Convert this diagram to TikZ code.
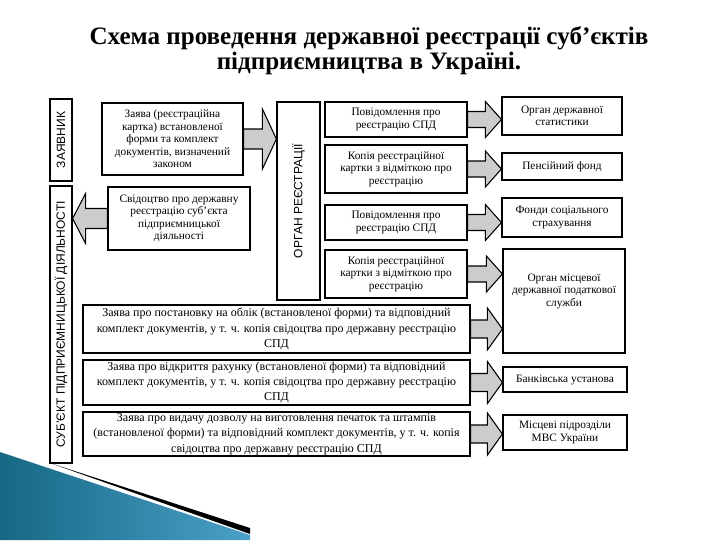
\documentclass[tikz,border=0pt]{standalone}
\usepackage{fontspec}
\setmainfont{Liberation Serif}
\setsansfont{Liberation Sans}
\usetikzlibrary{calc}

\definecolor{deckblue}{RGB}{74,160,200}
\definecolor{deckteal}{RGB}{22,104,132}

\tikzset{every picture/.style={line width=0.75pt}}

% block arrow: source anchor, target anchor, shaft half, head half, head offset
\newcommand{\fatarrow}[5]{%
  \draw [fatarr] ($(#1)+(0,#3)$) -- ($(#1 -| #2)+(#5,#3)$) -- ($(#1 -| #2)+(#5,#4)$) -- (#1 -| #2) -- ($(#1 -| #2)+(#5,-#4)$) -- ($(#1 -| #2)+(#5,-#3)$) -- ($(#1)+(0,-#3)$) -- cycle ;}

\begin{document}
\begin{tikzpicture}[x=0.75pt,y=0.75pt,yscale=-1,xscale=1,
  box/.style={draw, line width=0.9pt, align=center, inner sep=1pt, font=\fontsize{8.5}{9.4}\selectfont},
  widebox/.style={box, font=\fontsize{9}{11.5}\selectfont},
  vbox/.style={draw, line width=0.9pt, rotate=90, inner sep=1pt, font=\sffamily\fontsize{9}{10}\selectfont},
  fatarr/.style={draw, line width=0.8pt, fill=black!20, line join=miter}]
	\useasboundingbox (0,0) rectangle (720,540);

	%Shape: slide corner
	\shade [left color=deckteal, right color=deckblue] (0,452) -- (250,535) -- (250,540) -- (0,540) -- cycle ;
	\fill [black] (50,463) -- (250,528) -- (250,534) -- cycle ;

	% Title
	\node [font=\bfseries\fontsize{18.8}{19}\selectfont, align=center] (title) at (369,51) {Схема проведення державної реєстрації суб’єктів\\ підприємництва в Україні.};

	% Vertical boxes (rotated: north is the left side, south the right side)
	\node [vbox, minimum width=61.5pt, minimum height=16.5pt] (zayavnyk) at (61,140) {ЗАЯВНИК};
	\node [vbox, minimum width=207.75pt, minimum height=16.5pt] (subj) at (61,324.5) {СУБ’ЄКТ ПІДПРИЄМНИЦЬКОЇ ДІЯЛЬНОСТІ};
	\node [vbox, minimum width=148.5pt, minimum height=32.25pt] (organ) at (298.5,201) {ОРГАН РЕЄСТРАЦІЇ};

	% Left boxes
	\node [box, minimum width=105.75pt, minimum height=54pt] (zayava) at (172.5,139) {Заява (реєстраційна\\ картка) встановленої\\ форми та комплект\\ документів, визначений\\ законом};
	\node [box, minimum width=106.5pt, minimum height=47.25pt] (svid) at (179,218.5) {Свідоцтво про державну\\ реєстрацію суб’єкта\\ підприємницької\\ діяльності};

	% Middle boxes
	\node [box, minimum width=106.5pt, minimum height=26.25pt] (mid1) at (396,119.5) {Повідомлення про\\ реєстрацію СПД};
	\node [box, minimum width=106.5pt, minimum height=36pt] (mid2) at (396,169) {Копія реєстраційної\\ картки з відміткою про\\ реєстрацію};
	\node [box, minimum width=106.5pt, minimum height=26.25pt] (mid3) at (396,222.5) {Повідомлення про\\ реєстрацію СПД};
	\node [box, minimum width=106.5pt, minimum height=36pt] (mid4) at (396,274) {Копія реєстраційної\\ картки з відміткою про\\ реєстрацію};

	% Right boxes
	\node [box, minimum width=90pt, minimum height=28.5pt] (stat) at (562,116) {Орган державної\\ статистики};
	\node [box, minimum width=90pt, minimum height=20.25pt] (pens) at (562,166.5) {Пенсійний фонд};
	\node [box, minimum width=90pt, minimum height=29.25pt] (fond) at (562,217.5) {Фонди соціального\\ страхування};
	\node [box, minimum width=91.5pt, minimum height=78pt] (tax) at (564,301) {Орган місцевої\\ державної податкової\\ служби\\[7pt]};
	\node [box, minimum width=93pt, minimum height=18.75pt] (bank) at (565,379.5) {Банківська установа};
	\node [box, minimum width=93pt, minimum height=26.25pt] (mvs) at (565,432.5) {Місцеві підрозділи\\ МВС України};

	% Wide boxes
	\node [widebox, minimum width=290.25pt, minimum height=36pt] (wide1) at (276.5,329) {Заява про постановку на облік (встановленої форми) та відповідний\\ комплект документів, у т. ч. копія свідоцтва про державну реєстрацію\\ СПД};
	\node [widebox, minimum width=290.25pt, minimum height=33.75pt] (wide2) at (276.5,382.5) {Заява про відкриття рахунку (встановленої форми) та відповідний\\ комплект документів, у т. ч. копія свідоцтва про державну реєстрацію\\ СПД};
	\node [widebox, minimum width=290.25pt, minimum height=33pt] (wide3) at (276.5,434) {Заява про видачу дозволу на виготовлення печаток та штампів\\ (встановленої форми) та відповідний комплект документів, у т. ч. копія\\ свідоцтва про державну реєстрацію СПД};

	% Block arrows
	\fatarrow{zayava.east}{organ.north}{10}{30}{-14}
	\fatarrow{svid.west}{subj.south}{10}{25}{13}
	\fatarrow{mid1.east}{stat.west}{8}{18}{-16}
	\fatarrow{mid2.east}{pens.west}{8}{18}{-16}
	\fatarrow{mid3.east}{fond.west}{8}{18}{-16}
	\fatarrow{mid4.east}{tax.west}{8}{18}{-16}
	\fatarrow{wide1.east}{tax.west}{9}{21}{-15}
	\fatarrow{wide2.east}{bank.west}{9}{21}{-15}
	\fatarrow{wide3.east}{mvs.west}{9}{21}{-15}
\end{tikzpicture}
\end{document}
